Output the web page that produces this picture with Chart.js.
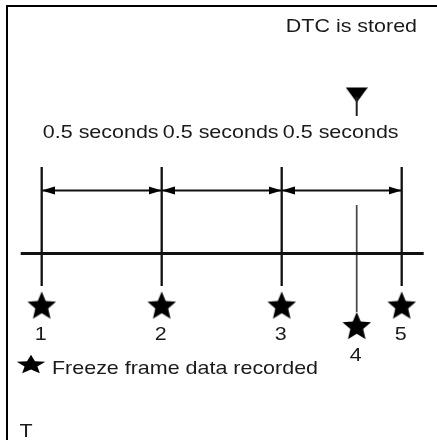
<!DOCTYPE html>
<html lang="en">
<head>
    <meta charset="UTF-8">
    <title>Freeze frame data timing</title>
    <script src="https://cdn.jsdelivr.net/npm/chart.js"></script>
    <style>
        body {
            margin: 0;
            background: #fff;
        }
        #chartCanvas {
            display: block;
        }
    </style>
</head>
<body>
    <canvas id="chartCanvas" width="437" height="440"></canvas>

    <script>
        // data (seconds)
        const frameTimes = [0, 0.5, 1.0, 1.3125, 1.5];
        const frameLabels = ["1", "2", "3", "4", "5"];
        const intervalStarts = [0, 0.5, 1.0];
        const intervalEnds = [0.5, 1.0, 1.5];
        const intervalLabels = ["0.5 seconds", "0.5 seconds", "0.5 seconds"];
        const dtcTime = 1.3125;
        const dtcLabel = "DTC is stored";
        const legendLabel = "Freeze frame data recorded";
        const footLabel = "T";

        // layout (pixels, y grows downward)
        const AXIS_Y = 253.5;
        const LINE_TOP = 167, LINE_BOTTOM = 286;
        const DTC_LINE_TOP = 205, DTC_LINE_BOTTOM = 312;
        const ARROW_Y = 190.5;
        const STAR_Y = 306.5, STAR_LOW_Y = 327;
        const FONT = "18.5px 'Liberation Sans', Arial, sans-serif";
        const SX = 1.16; // text looks horizontally stretched

        function makeStar(r, sy) {
            const c = document.createElement("canvas");
            c.width = Math.ceil(2 * r + 2);
            c.height = Math.ceil(2 * r + 2);
            const g = c.getContext("2d");
            g.translate(c.width / 2, c.height / 2);
            g.beginPath();
            for (let i = 0; i < 10; i++) {
                const rad = i % 2 === 0 ? r : r * 0.45;
                const a = -Math.PI / 2 + i * Math.PI / 5;
                g.lineTo(Math.cos(a) * rad, Math.sin(a) * rad * sy);
            }
            g.closePath();
            g.fillStyle = "#000";
            g.fill();
            return c;
        }

        // arrow head pointing left, tip in the middle of the image
        function makeArrowHead(len, half) {
            const c = document.createElement("canvas");
            c.width = len * 2;
            c.height = half * 2 + 1;
            const g = c.getContext("2d");
            g.beginPath();
            g.moveTo(len, half + 0.5);
            g.lineTo(len * 2, 0.5);
            g.lineTo(len * 2, half * 2 + 0.5);
            g.closePath();
            g.fillStyle = "#000";
            g.fill();
            return c;
        }

        function makeDownTriangle(w, h) {
            const c = document.createElement("canvas");
            c.width = w;
            c.height = h + 1;
            const g = c.getContext("2d");
            g.beginPath();
            g.moveTo(0, 0.5);
            g.lineTo(w, 0.5);
            g.lineTo(w / 2, h + 0.5);
            g.closePath();
            g.fillStyle = "#000";
            g.fill();
            return c;
        }

        const starImg = makeStar(15, 1);
        const legendStarImg = makeStar(15, 0.68);
        const arrowImg = makeArrowHead(13, 4);
        const triImg = makeDownTriangle(22, 15);

        function drawText(ctx, text, x, y, align) {
            ctx.save();
            ctx.translate(x, y);
            ctx.scale(SX, 1);
            ctx.font = FONT;
            ctx.fillStyle = "#1a1a1a";
            ctx.textAlign = align;
            ctx.textBaseline = "alphabetic";
            ctx.fillText(text, 0, 0);
            ctx.restore();
        }

        const datasets = [];

        // time axis
        datasets.push({
            data: [{ x: -0.0875, y: AXIS_Y }, { x: 1.5917, y: AXIS_Y }],
            showLine: true, borderColor: "#111", borderWidth: 3, pointRadius: 0
        });

        // frame lines
        frameTimes.forEach((t, i) => {
            const isDtc = t === dtcTime;
            datasets.push({
                data: [
                    { x: t, y: isDtc ? DTC_LINE_TOP : LINE_TOP },
                    { x: t, y: isDtc ? DTC_LINE_BOTTOM : LINE_BOTTOM }
                ],
                showLine: true,
                borderColor: isDtc ? "#444" : "#111",
                borderWidth: isDtc ? 1.7 : 2.3,
                pointRadius: 0
            });
        });

        // interval arrows
        intervalStarts.forEach((s, i) => {
            datasets.push({
                data: [{ x: s, y: ARROW_Y }, { x: intervalEnds[i], y: ARROW_Y }],
                showLine: true,
                borderColor: "#111",
                borderWidth: 2,
                pointStyle: arrowImg,
                pointRotation: (c) => c.dataIndex === 0 ? 0 : 180,
                pointRadius: 5
            });
        });

        // DTC marker stem + triangle
        datasets.push({
            data: [{ x: dtcTime, y: 97 }, { x: dtcTime, y: 116 }],
            showLine: true, borderColor: "#222", borderWidth: 2, pointRadius: 0
        });
        datasets.push({
            data: [{ x: dtcTime, y: 95 }],
            pointStyle: triImg, pointRadius: 10
        });

        // freeze frame stars
        datasets.push({
            data: frameTimes.map(t => ({ x: t, y: t === dtcTime ? STAR_LOW_Y : STAR_Y })),
            pointStyle: starImg, pointRadius: 14
        });

        const textPlugin = {
            id: "texts",
            beforeDraw(chart) {
                const ctx = chart.ctx;
                ctx.save();
                ctx.fillStyle = "#fff";
                ctx.fillRect(0, 0, chart.width, chart.height);
                ctx.fillStyle = "#000";
                ctx.fillRect(6, 5, 2, chart.height - 5);
                ctx.fillRect(6, 5, chart.width - 6, 2);
                ctx.restore();
            },
            afterDatasetsDraw(chart) {
                const ctx = chart.ctx;
                const xs = chart.scales.x;
                drawText(ctx, dtcLabel, 417, 31.5, "right");
                intervalLabels.forEach((lab, i) => {
                    const mid = xs.getPixelForValue((intervalStarts[i] + intervalEnds[i]) / 2);
                    drawText(ctx, lab, mid - 1, 137.5, "center");
                });
                frameLabels.forEach((lab, i) => {
                    const px = xs.getPixelForValue(frameTimes[i]);
                    const y = frameTimes[i] === dtcTime ? 360.5 : 339.5;
                    drawText(ctx, lab, px - 1, y, "center");
                });
                ctx.drawImage(legendStarImg, 31 - legendStarImg.width / 2, 365 - legendStarImg.height / 2);
                drawText(ctx, legendLabel, 52, 373.5, "left");
                drawText(ctx, footLabel, 19.5, 436.5, "left");
            }
        };

        new Chart(document.getElementById("chartCanvas"), {
            type: "scatter",
            data: { datasets },
            options: {
                responsive: false,
                animation: false,
                layout: { padding: 0, autoPadding: false },
                plugins: { legend: { display: false }, tooltip: { enabled: false } },
                scales: {
                    x: { type: "linear", display: false, min: -0.17375, max: 1.64708 },
                    y: { type: "linear", display: false, min: 0, max: 440, reverse: true }
                }
            },
            plugins: [textPlugin]
        });
    </script>
</body>
</html>
